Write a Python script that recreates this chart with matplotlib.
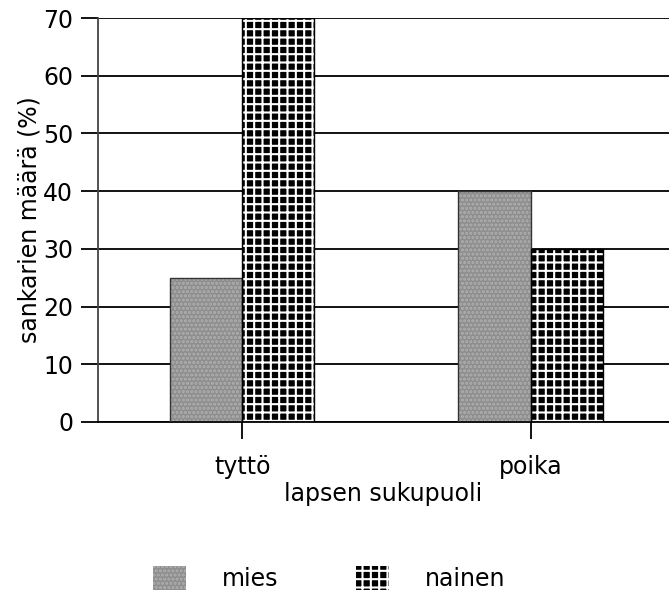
import numpy as np
import matplotlib
matplotlib.use("Agg")
import matplotlib.pyplot as plt
from matplotlib.patches import Patch

# data
categories = ["tyttö", "poika"]
series_names = ["mies", "nainen"]
mies = [25, 40]
nainen = [70, 30]
y_ticks = [0, 10, 20, 30, 40, 50, 60, 70]

plt.rcParams['font.family'] = ['DejaVu Sans']
plt.rcParams['hatch.linewidth'] = 1.5

FS = 17
MIES_FACE, MIES_HATCH = '#8e8e8e', '#b0b0b0'

fig = plt.figure(figsize=(6.69, 6.01), dpi=100)
ax = fig.add_axes([0.1465, 0.298, 0.8535, 0.672])

x = np.arange(len(categories))
w = 0.25

ax.set_axisbelow(True)
ax.yaxis.grid(True, color='black', linewidth=1.3)

# mies: grey speckled texture
ax.bar(x - w / 2, mies, w, color=MIES_FACE, edgecolor=MIES_HATCH, hatch='....', linewidth=0, zorder=2)
ax.bar(x - w / 2, mies, w, fill=False, edgecolor='#333333', linewidth=1.0, zorder=3)

# nainen: black squares on white grid
ax.bar(x + w / 2, nainen, w, color='black', edgecolor='white', hatch='++', linewidth=0, zorder=2)
ax.bar(x + w / 2, nainen, w, fill=False, edgecolor='black', linewidth=1.0, zorder=3)

ax.set_xlim(-0.5, 1.48)
ax.set_ylim(0, 70)
ax.set_yticks(y_ticks)
ax.set_xticks(x)
ax.set_xticklabels(categories)

for s in ['top', 'right']:
    ax.spines[s].set_visible(False)
ax.spines['left'].set_color('#444444')
ax.spines['left'].set_linewidth(1.3)
ax.spines['bottom'].set_color('black')
ax.spines['bottom'].set_linewidth(1.3)

ax.tick_params(axis='y', length=12, width=1.3, labelsize=FS, pad=6)
ax.tick_params(axis='x', length=12, width=1.3, labelsize=FS, pad=12)

ax.set_xlabel("lapsen sukupuoli", fontsize=FS, labelpad=2)
ax.set_ylabel("sankarien määrä (%)", fontsize=FS, labelpad=1)

handles = [
    Patch(facecolor=MIES_FACE, edgecolor=MIES_HATCH, hatch='....', linewidth=0),
    Patch(facecolor='black', edgecolor='white', hatch='++', linewidth=0),
]
fig.legend(handles, series_names, loc='center', bbox_to_anchor=(0.492, 0.038), ncol=2,
           frameon=False, fontsize=FS, handlelength=1.4, handleheight=1.2,
           handletextpad=1.5, columnspacing=3.3, borderpad=0)

fig.savefig("out.png", dpi=100)
